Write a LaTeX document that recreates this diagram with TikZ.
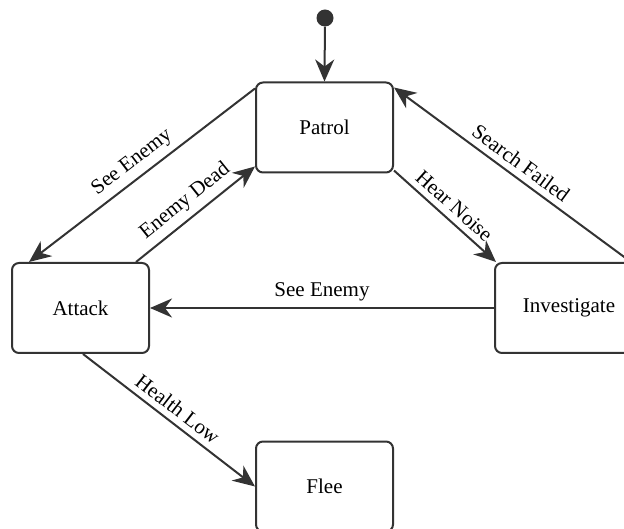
\documentclass[tikz,border=0pt]{standalone}
\usepackage{fontspec}
\setmainfont{Liberation Serif}
\usetikzlibrary{arrows.meta,calc}
\definecolor{ink}{HTML}{333333}
\begin{document}
\begin{tikzpicture}[x=1pt,y=-1pt, font=\fontsize{21}{24}\selectfont,
  state/.style={draw=ink, line width=2pt, rounded corners=7pt, minimum height=90pt, inner sep=0pt, text=black},
  tr/.style={draw=ink, line width=2pt, -{Stealth[length=22pt,width=19pt,inset=7pt]}},
  lab/.style={sloped, above=6pt, text=black, inner sep=0pt}]
\useasboundingbox (0,0) rectangle (624,529);
\node[circle, fill=ink, minimum size=17pt, inner sep=0pt] (init) at (325,18) {};
\node[state, minimum width=137pt] (patrol) at (324.5,127.5) {Patrol};
\node[state, minimum width=137pt] (attack) at (80.5,308) {Attack};
\node[state, minimum width=148pt] (invest) at (569,308) {Investigate};
\node[state, minimum width=137pt] (flee) at (324.5,486.5) {Flee};

\draw[tr] (init) -- (patrol.north);
\draw[tr] ([yshift=-7pt]patrol.north west) -- node[lab]{See Enemy} ([xshift=18pt]attack.north west);
\draw[tr] ([xshift=-14pt]attack.north east) -- node[lab]{Enemy Dead} ([yshift=7pt]patrol.south west);
\draw[tr] ([yshift=3pt]patrol.south east) -- node[lab]{Hear Noise} ([xshift=2pt]invest.north west);
\draw[tr] ([xshift=-13pt]invest.north east) -- node[lab]{Search Failed} ([yshift=-6pt]patrol.north east);
\draw[tr] (invest.west) -- node[lab]{See Enemy} (attack.east);
\draw[tr] ([xshift=2.5pt]attack.south) -- node[lab]{Health Low} (flee.west);
\end{tikzpicture}
\end{document}
